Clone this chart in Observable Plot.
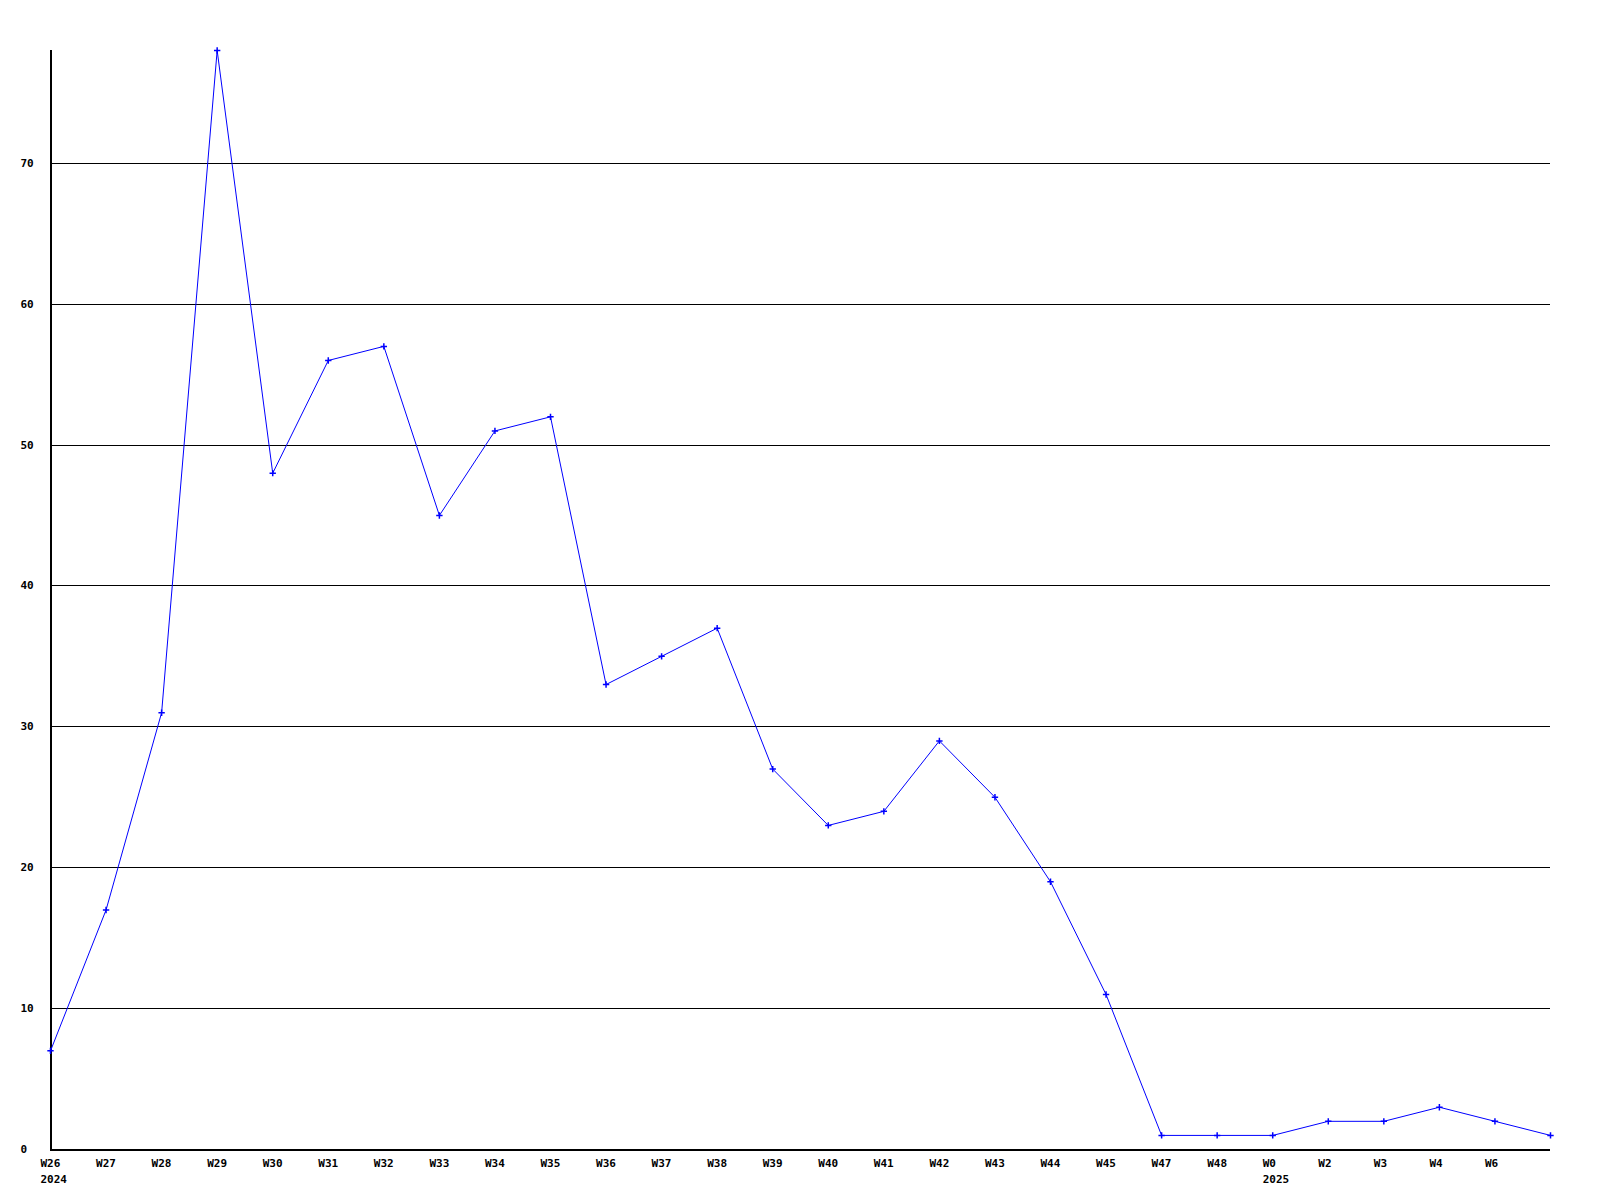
<!DOCTYPE html>
<html>
<head>
<meta charset="utf-8">
<script src="https://cdn.jsdelivr.net/npm/d3@7"></script>
<script src="https://cdn.jsdelivr.net/npm/@observablehq/plot@0.6"></script>
<style>
  html, body { margin: 0; padding: 0; background: #fff; }
  svg { display: block; }
</style>
</head>
<body>
<div id="chart"></div>
<script>
const weeks = ["W26","W27","W28","W29","W30","W31","W32","W33","W34","W35","W36","W37","W38","W39","W40","W41","W42","W43","W44","W45","W47","W48","W0","W2","W3","W4","W6",""];
const years = ["2024","","","","","","","","","","","","","","","","","","","","","","2025","","","","",""];
const values = [7,17,31,78,48,56,57,45,51,52,33,35,37,27,23,24,29,25,19,11,1,1,1,2,2,3,2,1];
const yTicks = [0,10,20,30,40,50,60,70];
const gridLines = [10,20,30,40,50,60,70];

const data = values.map((v, i) => ({i, v}));
const labels = weeks.map((w, i) => ({i, text: years[i] ? w + "\n" + years[i] : w}));

const chart = Plot.plot({
  width: 1600,
  height: 1200,
  marginLeft: 50,
  marginRight: 50,
  marginTop: 50,
  marginBottom: 51,
  style: {fontFamily: "'DejaVu Sans Mono', monospace", fontSize: "11px", fontWeight: "bold", background: "#fff"},
  x: {type: "point", domain: d3.range(values.length), padding: 0, round: false, axis: null},
  y: {domain: [0, 78], axis: null},
  marks: [
    Plot.ruleY(gridLines, {stroke: "#000", strokeOpacity: 1, strokeWidth: 1, shapeRendering: "crispEdges"}),
    Plot.ruleY([0], {stroke: "#000", strokeWidth: 2, shapeRendering: "crispEdges"}),
    Plot.ruleX([0], {y1: 0, y2: 78, stroke: "#000", strokeWidth: 2, shapeRendering: "crispEdges"}),
    Plot.text(yTicks, {y: d => d, text: d => String(d), frameAnchor: "left", dx: -30, textAnchor: "start", fill: "#000"}),
    Plot.text(labels, {x: "i", text: "text", frameAnchor: "bottom", dy: 7, lineAnchor: "top", lineHeight: 1.4, textAnchor: "start", dx: -10, fill: "#000"}),
    Plot.line(data, {x: "i", y: "v", stroke: "#0000ff", strokeWidth: 1}),
    Plot.dot(data, {x: "i", y: "v", symbol: "plus", r: 2.2, stroke: "#0000ff", strokeWidth: 1.5})
  ]
});
document.getElementById("chart").appendChild(chart);
</script>
</body>
</html>
